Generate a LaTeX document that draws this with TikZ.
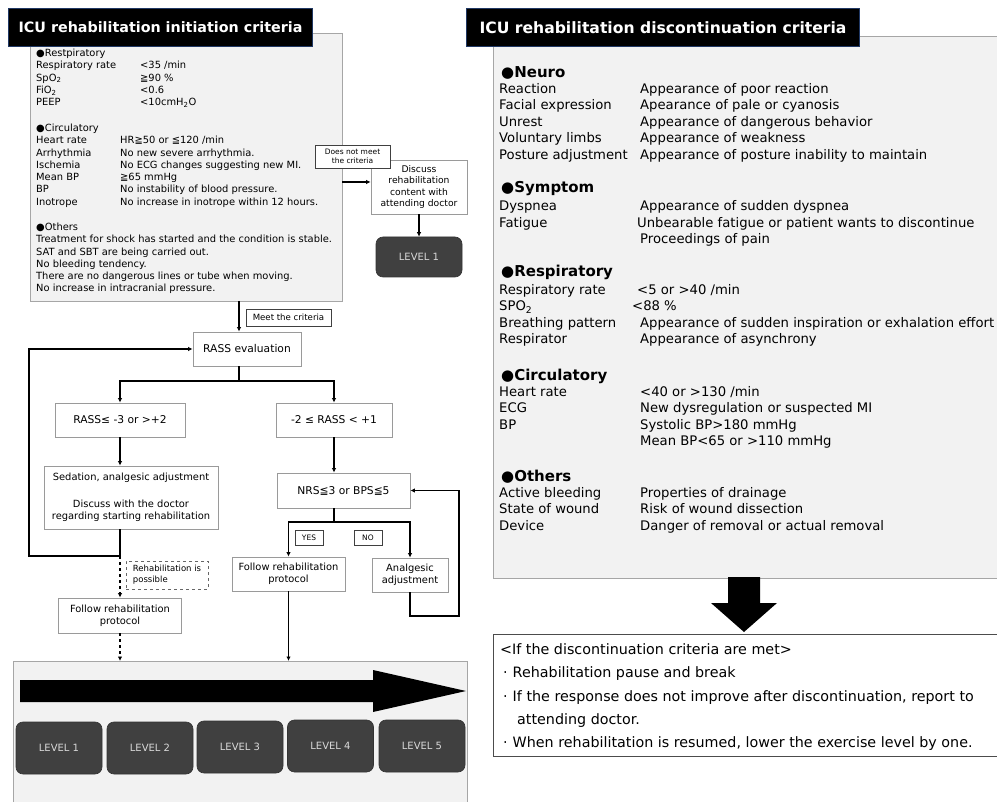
\documentclass[tikz,border=0pt]{standalone}
\usepackage{fontspec}
\setmainfont{DejaVu Sans}
\usepackage{xcolor}
\usepackage{tikz}
\usetikzlibrary{arrows.meta}
\definecolor{pnlgray}{HTML}{F2F2F2}
\definecolor{pnlline}{HTML}{A6A6A6}
\definecolor{boxline}{HTML}{9A9A9A}
\definecolor{lvlgray}{HTML}{404040}
\definecolor{lvltext}{HTML}{D9D9D9}
\definecolor{ttlline}{HTML}{203864}

\begin{document}
\begin{tikzpicture}[x=1pt, y=-1pt,
  panel/.style={draw=pnlline, line width=0.8pt, fill=pnlgray, inner sep=0pt},
  titlebox/.style={draw=ttlline, line width=1pt, fill=black, text=white, inner sep=0pt},
  flowbox/.style={draw=boxline, line width=0.8pt, fill=white, inner sep=1pt, align=center, font=\fontsize{9.9}{12.3}\selectfont},
  tagbox/.style={draw=black!75, line width=0.6pt, fill=white, inner sep=1pt, align=center},
  levelbox/.style={draw=black!80, line width=0.6pt, fill=lvlgray, text=lvltext, rounded corners=7pt, minimum width=86pt, minimum height=52pt, font=\fontsize{10}{12}\selectfont},
  crit/.style={anchor=base west, inner sep=0pt},
  wire/.style={line width=1.3pt},
  conn/.style={line width=1.3pt, -{Latex[length=4.5pt,width=4.5pt]}}
]
  \useasboundingbox (0,0) rectangle (997,802);
  \fill[white] (0,0) rectangle (997,802);

  % initiation criteria
  \node[panel, minimum width=312pt, minimum height=268pt, anchor=north west] (initbox) at (30,33) {};
  \node[titlebox, minimum width=304pt, minimum height=38pt, anchor=north west, font=\fontsize{14.3}{17}\bfseries] (inittitle) at (8,8) {ICU rehabilitation initiation criteria};
  \node[crit, font=\fontsize{9.9}{12.3}\selectfont] (initresp) at (36,56.5) {\begin{tabular}[t]{@{}p{104pt}@{}l@{}}
    \multicolumn{2}{@{}l@{}}{●Restpiratory}\\
    Respiratory rate & <35 /min\\
    SpO\textsubscript{2} & ≧90 \%\\
    FiO\textsubscript{2} & <0.6\\
    PEEP & <10cmH\textsubscript{2}O
  \end{tabular}};
  \node[crit, font=\fontsize{9.9}{12.3}\selectfont] (initcirc) at (36,131.5) {\begin{tabular}[t]{@{}p{84pt}@{}l@{}}
    \multicolumn{2}{@{}l@{}}{●Circulatory}\\
    Heart rate & HR≧50 or ≦120 /min\\
    Arrhythmia & No new severe arrhythmia.\\
    Ischemia & No ECG changes suggesting new MI.\\
    Mean BP & ≧65 mmHg\\
    BP & No instability of blood pressure.\\
    Inotrope & No increase in inotrope within 12 hours.
  \end{tabular}};
  \node[crit, font=\fontsize{9.9}{12.3}\selectfont] (initother) at (36,230.5) {\begin{tabular}[t]{@{}l@{}}
    ●Others\\
    Treatment for shock has started and the condition is stable.\\
    SAT and SBT are being carried out.\\
    No bleeding tendency.\\
    There are no dangerous lines or tube when moving.\\
    No increase in intracranial pressure.
  \end{tabular}};

  % criteria not met
  \node[flowbox, minimum width=96pt, minimum height=54pt, font=\fontsize{9.2}{11.3}\selectfont] (discuss) at (419,187) {Discuss\\rehabilitation\\content with\\attending doctor};
  \node[tagbox, minimum width=75pt, minimum height=23pt, font=\fontsize{7.5}{9}\selectfont] (nomeet) at (352.5,156.5) {Does not meet\\the criteria};
  \node[levelbox, minimum height=40pt] (lvtop) at (419,257) {LEVEL 1};
  \coordinate (nomeetA) at (342,182);
  \draw[conn] (nomeetA) -- (nomeetA -| discuss.west);
  \draw[conn] (discuss.south) -- (lvtop.north);

  % RASS flow
  \node[flowbox, minimum width=108pt, minimum height=34pt, font=\fontsize{10.7}{13}\selectfont] (rass) at (247,349) {RASS evaluation};
  \node[tagbox, minimum width=85pt, minimum height=17pt, font=\fontsize{8.6}{10}\selectfont] (meet) at (288.5,317.5) {Meet the criteria};
  \node[flowbox, minimum width=130pt, minimum height=34pt, font=\fontsize{10.7}{13}\selectfont] (rassL) at (120,420) {RASS≤ -3 or >+2};
  \node[flowbox, minimum width=116pt, minimum height=34pt, font=\fontsize{10.7}{13}\selectfont] (rassR) at (334,420) {-2 ≤ RASS < +1};
  \node[flowbox, minimum width=174pt, minimum height=63pt] (sed) at (131,497.5) {Sedation, analgesic adjustment\\[14pt]Discuss with the doctor\\regarding starting rehabilitation};
  \node[flowbox, minimum width=133pt, minimum height=35pt, font=\fontsize{10.7}{13}\selectfont] (nrs) at (343.5,490.5) {NRS≦3 or BPS≦5};
  \node[tagbox, minimum width=28pt, minimum height=15pt, font=\fontsize{7.5}{9}\selectfont] (yes) at (309,537.5) {YES};
  \node[tagbox, minimum width=28pt, minimum height=15pt, font=\fontsize{7.5}{9}\selectfont] (no) at (368,537.5) {NO};
  \node[flowbox, minimum width=113pt, minimum height=34pt] (folR) at (288.5,574) {Follow rehabilitation\\protocol};
  \node[flowbox, minimum width=76pt, minimum height=34pt] (anal) at (410,575) {Analgesic\\adjustment};
  \node[tagbox, draw=black!60, dashed, minimum width=82pt, minimum height=28pt, font=\fontsize{8.5}{11}\selectfont, align=left] (possible) at (167,575) {Rehabilitation is\\possible};
  \node[flowbox, minimum width=123pt, minimum height=35pt] (folL) at (120,615.5) {Follow rehabilitation\\protocol};

  % level panel
  \fill[pnlgray] (13,661) rectangle (467,802);
  \draw[pnlline, line width=0.8pt] (13,802) -- (13,661) -- (467,661) -- (467,802);
  \coordinate (lvpanel) at (13,661);
  \fill[black] (20,680) -- (373,680) -- (373,670) -- (466,691) -- (373,712) -- (373,702) -- (20,702) -- cycle;
  \node[levelbox] (lv1) at (59,748) {LEVEL 1};
  \node[levelbox] (lv2) at (150,748) {LEVEL 2};
  \node[levelbox] (lv3) at (240,747) {LEVEL 3};
  \node[levelbox] (lv4) at (330.5,746) {LEVEL 4};
  \node[levelbox] (lv5) at (422,746) {LEVEL 5};

  \coordinate (meetA) at (239,301);
  \coordinate (splitA) at (239,381);
  \draw[conn] (meetA) -- (meetA |- rass.north);
  \draw[wire] (meetA |- rass.south) -- (splitA);
  \draw[conn] (splitA) -| (rassL.north);
  \draw[conn] (splitA) -| (rassR.north);
  \draw[conn] (rassL.south) -- (rassL.south |- sed.north);
  \coordinate (joinL) at (120,556);
  \coordinate (loopL) at (29,556);
  \draw[wire] (rassL.south |- sed.south) -- (joinL);
  \draw[conn] (joinL) -- (loopL) |- (rass.west);
  \draw[conn, dashed] (joinL) -- (folL.north);
  \draw[conn, dashed] (folL.south) -- (folL.south |- lvpanel);
  \draw[conn] (rassR.south) -- (rassR.south |- nrs.north);
  \coordinate (splitB) at (334,522);
  \draw[wire] (rassR.south |- nrs.south) -- (splitB);
  \draw[conn] (splitB) -| (folR.north);
  \draw[conn] (splitB) -| (anal.north);
  \coordinate (loopR) at (459,616);
  \draw[conn] (anal.south) |- (loopR) |- (nrs.east);
  \draw[conn] (folR.south) -- (folR.south |- lvpanel);

  % discontinuation criteria
  \fill[pnlgray] (493,36) rectangle (997,578);
  \draw[pnlline, line width=0.8pt] (997,36) -- (493,36) -- (493,578) -- (997,578);
  \node[titlebox, minimum width=393pt, minimum height=38pt, anchor=north west, font=\fontsize{15.6}{18}\bfseries] (stoptitle) at (466,8) {ICU rehabilitation discontinuation criteria};

  \node[crit, font=\fontsize{15}{18}\bfseries] (neurohd) at (501,78) {●Neuro};
  \node[crit, font=\fontsize{13.2}{16.5}\selectfont] (neuro) at (499,93.4) {\begin{tabular}[t]{@{}p{141pt}@{}l@{}}
    Reaction & Appearance of poor reaction\\
    Facial expression & Apearance of pale or cyanosis\\
    Unrest & Appearance of dangerous behavior\\
    Voluntary limbs & Appearance of weakness\\
    Posture adjustment & Appearance of posture inability to maintain
  \end{tabular}};
  \node[crit, font=\fontsize{15}{18}\bfseries] (symphd) at (501,193) {●Symptom};
  \node[crit, font=\fontsize{13.2}{16.5}\selectfont] (symp) at (499,211) {\begin{tabular}[t]{@{}p{141pt}@{}l@{}}
    Dyspnea & Appearance of sudden dyspnea\\
    Fatigue & \hspace{-3pt}Unbearable fatigue or patient wants to discontinue\\
     & Proceedings of pain
  \end{tabular}};
  \node[crit, font=\fontsize{15}{18}\bfseries] (resphd) at (501,277) {●Respiratory};
  \node[crit, font=\fontsize{13.2}{16.5}\selectfont] (resp) at (499,294.4) {\begin{tabular}[t]{@{}p{141pt}@{}l@{}}
    Respiratory rate & \hspace{-3pt}<5 or >40 /min\\
    SPO\textsubscript{2} & \hspace{-8pt}<88 \%\\
    Breathing pattern & Appearance of sudden inspiration or exhalation effort\\
    Respirator & Appearance of asynchrony
  \end{tabular}};
  \node[crit, font=\fontsize{15}{18}\bfseries] (circhd) at (501,381) {●Circulatory};
  \node[crit, font=\fontsize{13.2}{16.5}\selectfont] (circ) at (499,396.4) {\begin{tabular}[t]{@{}p{141pt}@{}l@{}}
    Heart rate & <40 or >130 /min\\
    ECG & New dysregulation or suspected MI\\
    BP & Systolic BP>180 mmHg\\
     & Mean BP<65 or >110 mmHg
  \end{tabular}};
  \node[crit, font=\fontsize{15}{18}\bfseries] (otherhd) at (501,482) {●Others};
  \node[crit, font=\fontsize{13.2}{16.5}\selectfont] (other) at (499,497.4) {\begin{tabular}[t]{@{}p{141pt}@{}l@{}}
    Active bleeding & Properties of drainage\\
    State of wound & Risk of wound dissection\\
    Device & Danger of removal or actual removal
  \end{tabular}};

  % when criteria are met
  \fill[black] (728,577) -- (760,577) -- (760,603) -- (777,603) -- (744,632) -- (711,603) -- (728,603) -- cycle;
  \fill[white] (493,634) rectangle (997,756);
  \draw[black!70, line width=0.8pt] (997,634) -- (493,634) -- (493,756) -- (997,756);
  \node[crit, font=\fontsize{14.3}{23.3}\selectfont] (action) at (500,654.6) {\begin{tabular}[t]{@{}l@{}}
    <If the discontinuation criteria are met>\\
    \hspace*{3pt}·\hspace{5pt}Rehabilitation pause and break\\
    \hspace*{3pt}·\hspace{5pt}If the response does not improve after discontinuation, report to\\
    \hspace*{17pt}attending doctor.\\
    \hspace*{3pt}·\hspace{5pt}When rehabilitation is resumed, lower the exercise level by one.
  \end{tabular}};
\end{tikzpicture}
\end{document}
